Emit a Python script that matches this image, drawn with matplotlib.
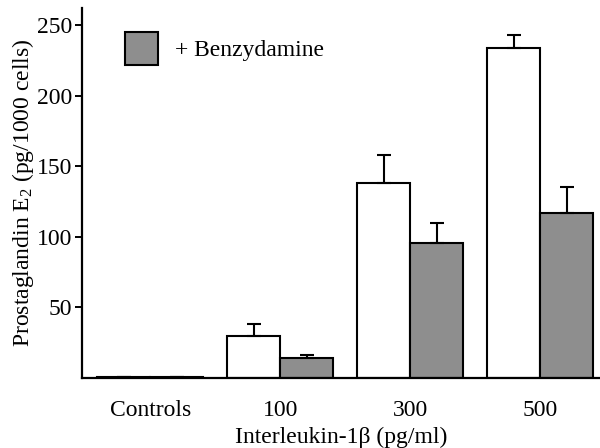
import matplotlib
matplotlib.use("Agg")
import matplotlib.pyplot as plt
import numpy as np

# data
groups = ["Controls", "100", "300", "500"]
il1b_alone = [1.0, 30, 138, 234]
il1b_alone_err = [0, 8.5, 20, 9]
benzydamine = [0.8, 14.5, 96, 117]
benzydamine_err = [0, 2, 14, 18.5]

plt.rcParams["font.family"] = ["Liberation Serif", "DejaVu Serif"]
plt.rcParams["mathtext.default"] = "regular"

fig = plt.figure(figsize=(6, 4.48), dpi=100)
ax = fig.add_axes([0.137, 0.156, 0.863, 0.826])

x = np.arange(len(groups))
w = 0.41
gray = "#8e8e8e"
lw = 1.5
fs = 17
err_kw = dict(elinewidth=lw, capthick=lw, ecolor="black", capsize=5)

ax.bar(x - w / 2, il1b_alone, w, color="white", edgecolor="black", linewidth=lw,
       yerr=[np.zeros(len(groups)), il1b_alone_err], error_kw=err_kw, zorder=2)
ax.bar(x + w / 2, benzydamine, w, color=gray, edgecolor="black", linewidth=lw,
       yerr=[np.zeros(len(groups)), benzydamine_err], error_kw=err_kw, zorder=2,
       label="+ Benzydamine")

ax.set_xlim(-0.523, 3.46)
ax.set_ylim(0, 262)
ax.set_yticks([50, 100, 150, 200, 250])
ax.set_xticks(x)
ax.set_xticklabels(groups)

for s in ["top", "right"]:
    ax.spines[s].set_visible(False)
for s in ["left", "bottom"]:
    ax.spines[s].set_linewidth(1.6)

ax.tick_params(axis="y", length=5, width=1.4, pad=2, labelsize=fs)
ax.tick_params(axis="x", length=0, pad=16, labelsize=fs)

ax.set_ylabel("Prostaglandin E$_2$ (pg/1000 cells)", fontsize=fs, labelpad=1)
ax.set_xlabel("Interleukin-1β (pg/ml)", fontsize=fs, labelpad=4)

ax.legend(loc="upper left", bbox_to_anchor=(0.083, 0.935), frameon=False,
          fontsize=fs, handlelength=1.4, handleheight=1.75, handletextpad=0.7,
          borderpad=0, borderaxespad=0)

fig.savefig("out.png", dpi=100)
